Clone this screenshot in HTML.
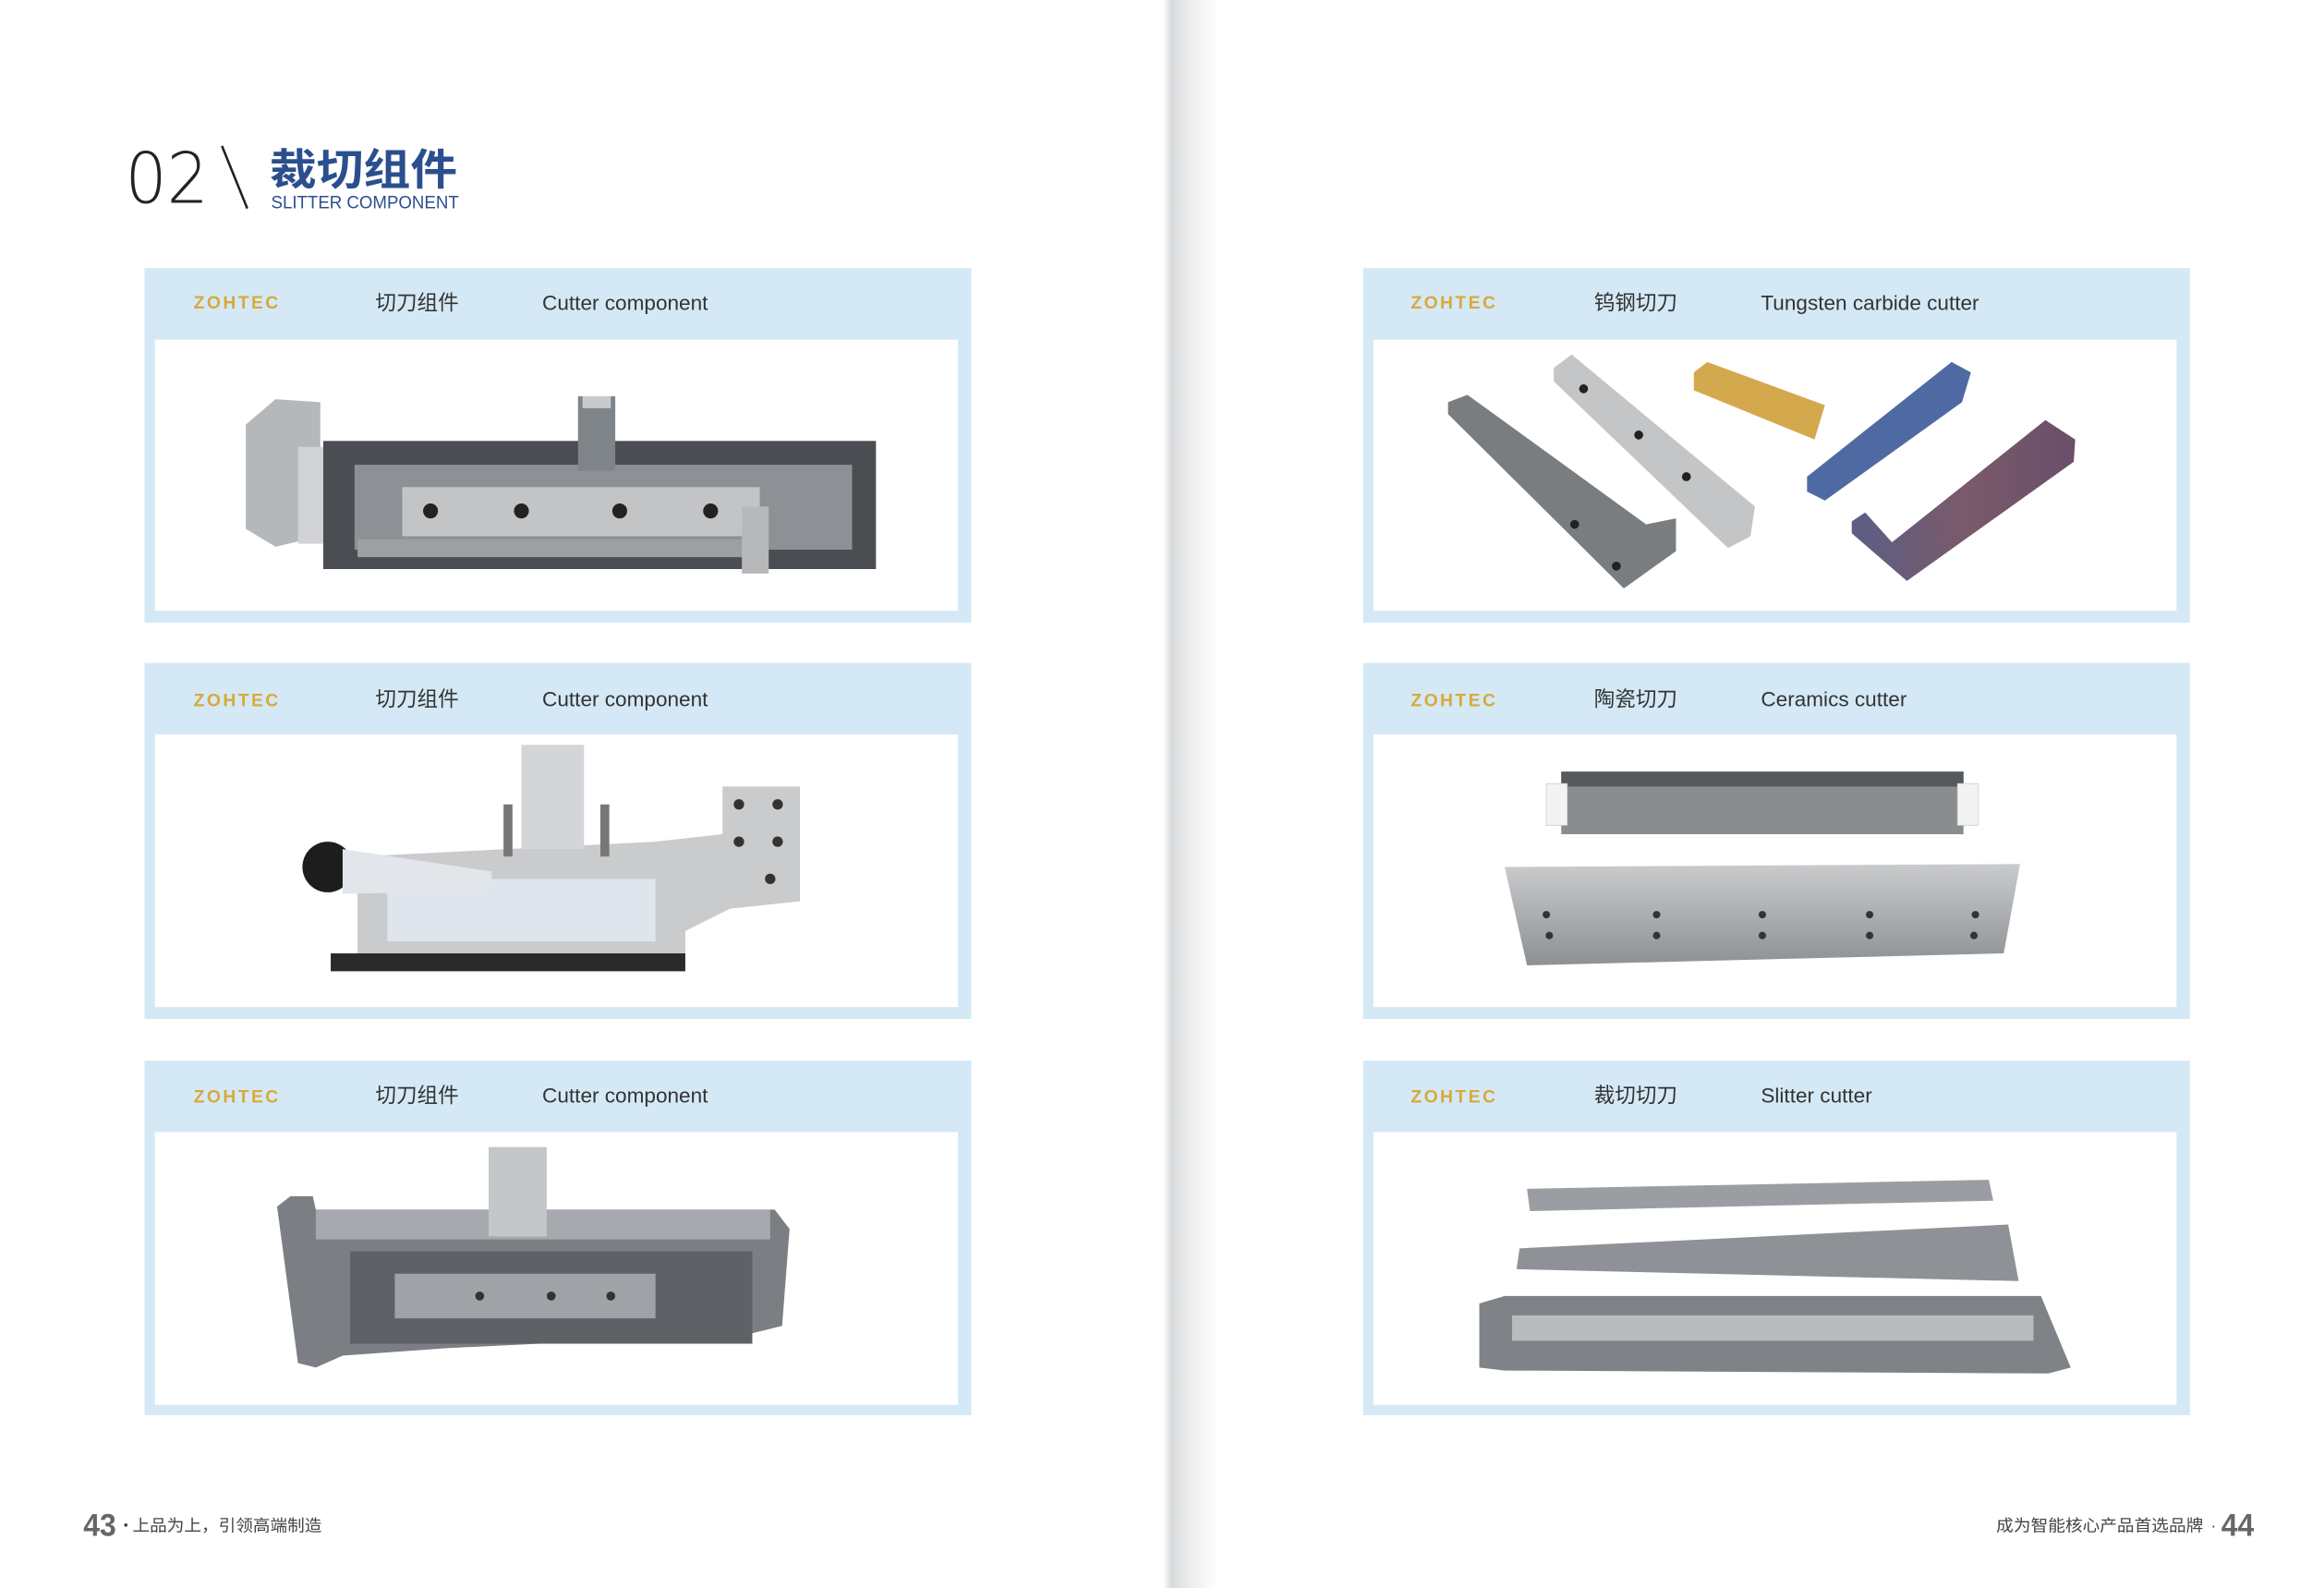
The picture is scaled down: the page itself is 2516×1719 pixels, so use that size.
<!DOCTYPE html>
<html><head><meta charset="utf-8"><style>
html,body{margin:0;padding:0;background:#fff;}
svg{display:block;}
text{font-family:"Liberation Sans","Noto Sans CJK SC",sans-serif;}
</style></head><body>
<svg width="2516" height="1719" viewBox="0 0 1560 1066" preserveAspectRatio="none" xmlns="http://www.w3.org/2000/svg">
<defs>
<linearGradient id="spine" x1="0" x2="1" y1="0" y2="0">
<stop offset="0" stop-color="#fdfdfd"/><stop offset="0.15" stop-color="#d9dadc"/><stop offset="0.5" stop-color="#eceded"/><stop offset="1" stop-color="#fefefe"/>
</linearGradient>
<linearGradient id="steel" x1="0" x2="0" y1="0" y2="1"><stop offset="0" stop-color="#c9cbcd"/><stop offset="1" stop-color="#8e9194"/></linearGradient>
<linearGradient id="purp" x1="0" x2="1"><stop offset="0" stop-color="#5a5f86"/><stop offset="0.5" stop-color="#7a5a6a"/><stop offset="1" stop-color="#6a4f6a"/></linearGradient>
</defs>
<rect width="1560" height="1066" fill="#fff"/>
<rect x="781" y="0" width="36" height="1066" fill="url(#spine)"/>

<!-- title -->
<text x="84" y="136" font-size="47" fill="#222" font-weight="300" style="font-family:'DejaVu Sans','Liberation Sans',sans-serif" textLength="56" lengthAdjust="spacingAndGlyphs">02</text>
<line x1="149" y1="98" x2="166" y2="140" stroke="#222" stroke-width="1.6"/>
<text x="181" y="124" font-size="29" font-weight="bold" fill="#2b4f8e" style="font-family:'Noto Sans CJK SC',sans-serif" textLength="126" lengthAdjust="spacingAndGlyphs">裁切组件</text>
<text x="182" y="140" font-size="12" fill="#2b4f8e" textLength="126" lengthAdjust="spacingAndGlyphs">SLITTER COMPONENT</text>

<!-- cards -->
<g id="cards">
<rect x="97" y="180" width="555" height="238" fill="#d4e9f5"/><rect x="104" y="228" width="539" height="182" fill="#fff"/>
<rect x="97" y="445" width="555" height="239" fill="#d4e9f5"/><rect x="104" y="493" width="539" height="183" fill="#fff"/>
<rect x="97" y="712" width="555" height="238" fill="#d4e9f5"/><rect x="104" y="760" width="539" height="183" fill="#fff"/>
<rect x="915" y="180" width="555" height="238" fill="#d4e9f5"/><rect x="922" y="228" width="539" height="182" fill="#fff"/>
<rect x="915" y="445" width="555" height="239" fill="#d4e9f5"/><rect x="922" y="493" width="539" height="183" fill="#fff"/>
<rect x="915" y="712" width="555" height="238" fill="#d4e9f5"/><rect x="922" y="760" width="539" height="183" fill="#fff"/>
</g>
<g font-size="14" fill="#333">
<text x="130" y="207" font-size="12" font-weight="bold" fill="#d9a93a" letter-spacing="1.5">ZOHTEC</text>
<text x="252" y="208" style="font-family:'Noto Sans CJK SC',sans-serif">切刀组件</text>
<text x="364" y="208">Cutter component</text>
<text x="130" y="474" font-size="12" font-weight="bold" fill="#d9a93a" letter-spacing="1.5">ZOHTEC</text>
<text x="252" y="474" style="font-family:'Noto Sans CJK SC',sans-serif">切刀组件</text>
<text x="364" y="474">Cutter component</text>
<text x="130" y="740" font-size="12" font-weight="bold" fill="#d9a93a" letter-spacing="1.5">ZOHTEC</text>
<text x="252" y="740" style="font-family:'Noto Sans CJK SC',sans-serif">切刀组件</text>
<text x="364" y="740">Cutter component</text>
<text x="947" y="207" font-size="12" font-weight="bold" fill="#d9a93a" letter-spacing="1.5">ZOHTEC</text>
<text x="1070" y="208" style="font-family:'Noto Sans CJK SC',sans-serif">钨钢切刀</text>
<text x="1182" y="208">Tungsten carbide cutter</text>
<text x="947" y="474" font-size="12" font-weight="bold" fill="#d9a93a" letter-spacing="1.5">ZOHTEC</text>
<text x="1070" y="474" style="font-family:'Noto Sans CJK SC',sans-serif">陶瓷切刀</text>
<text x="1182" y="474">Ceramics cutter</text>
<text x="947" y="740" font-size="12" font-weight="bold" fill="#d9a93a" letter-spacing="1.5">ZOHTEC</text>
<text x="1070" y="740" style="font-family:'Noto Sans CJK SC',sans-serif">裁切切刀</text>
<text x="1182" y="740">Slitter cutter</text>
</g>

<!-- product 1 -->
<polygon points="165,285 185,268 215,270 215,360 185,367 165,355" fill="#b5b8bb"/>
<rect x="200" y="300" width="20" height="65" fill="#d0d2d4"/>
<rect x="217" y="296" width="371" height="86" fill="#4a4d51"/>
<rect x="238" y="312" width="334" height="57" fill="#8d9094"/>
<rect x="270" y="327" width="240" height="33" fill="#c2c4c6"/>
<rect x="240" y="362" width="270" height="12" fill="#9da0a3"/>
<rect x="498" y="340" width="18" height="45" fill="#b6b8ba"/>
<rect x="388" y="266" width="25" height="50" fill="#7f8489"/>
<rect x="391" y="266" width="19" height="8" fill="#c8cacc"/>
<g fill="#222"><circle cx="289" cy="343" r="5"/><circle cx="350" cy="343" r="5"/><circle cx="416" cy="343" r="5"/><circle cx="477" cy="343" r="5"/></g>

<!-- product 2 -->
<polygon points="240,575 440,565 485,560 485,528 537,528 537,605 490,610 460,625 460,650 240,648" fill="#c9cbcd"/>
<rect x="260" y="590" width="180" height="42" fill="#dfe5ec"/>
<rect x="350" y="500" width="42" height="70" fill="#d3d5d8"/>
<rect x="338" y="540" width="6" height="35" fill="#777"/><rect x="403" y="540" width="6" height="35" fill="#777"/>
<circle cx="220" cy="582" r="17" fill="#1d1d1d"/>
<polygon points="230,570 330,585 330,598 230,600" fill="#e2e6ea"/>
<rect x="222" y="640" width="238" height="12" fill="#2a2a2a"/>
<g fill="#333"><circle cx="496" cy="540" r="3.5"/><circle cx="522" cy="540" r="3.5"/><circle cx="496" cy="565" r="3.5"/><circle cx="522" cy="565" r="3.5"/><circle cx="517" cy="590" r="3.5"/></g>

<!-- product 3 -->
<polygon points="186,810 195,803 210,803 212,812 520,812 530,825 525,890 505,895 300,905 230,910 212,918 200,915" fill="#7b7f84"/>
<rect x="212" y="812" width="305" height="20" fill="#a6a9ad"/>
<rect x="235" y="840" width="270" height="62" fill="#5e6267"/>
<rect x="265" y="855" width="175" height="30" fill="#9fa3a7"/>
<rect x="328" y="770" width="39" height="60" fill="#c4c7ca"/>
<g fill="#333"><circle cx="322" cy="870" r="3"/><circle cx="370" cy="870" r="3"/><circle cx="410" cy="870" r="3"/></g>

<!-- right 1 -->
<polygon points="972,270 985,265 1105,352 1125,348 1125,370 1090,395 972,278" fill="#7a7d80"/>
<polygon points="1043,247 1055,238 1178,340 1175,360 1160,368 1043,256" fill="#c3c5c7"/>
<polygon points="1137,250 1146,243 1225,272 1218,295 1137,262" fill="#d4a94d"/>
<polygon points="1213,320 1310,243 1323,250 1317,270 1225,336 1213,330" fill="#4f6aa3"/>
<polygon points="1243,350 1252,344 1270,364 1373,282 1393,295 1392,310 1280,390 1243,358" fill="url(#purp)"/>
<g fill="#222"><circle cx="1057" cy="352" r="3"/><circle cx="1085" cy="380" r="3"/><circle cx="1063" cy="261" r="3"/><circle cx="1100" cy="292" r="3"/><circle cx="1132" cy="320" r="3"/></g>

<!-- right 2 -->
<rect x="1048" y="518" width="270" height="42" fill="#8a8d90"/>
<rect x="1048" y="518" width="270" height="10" fill="#56595d"/>
<rect x="1038" y="526" width="14" height="28" fill="#f3f3f3" stroke="#ccc" stroke-width="0.5"/>
<rect x="1314" y="526" width="14" height="28" fill="#f3f3f3" stroke="#ccc" stroke-width="0.5"/>
<polygon points="1010,582 1356,580 1345,640 1025,648" fill="url(#steel)"/>
<g fill="#333"><circle cx="1038" cy="614" r="2.5"/><circle cx="1112" cy="614" r="2.5"/><circle cx="1183" cy="614" r="2.5"/><circle cx="1255" cy="614" r="2.5"/><circle cx="1326" cy="614" r="2.5"/>
<circle cx="1040" cy="628" r="2.5"/><circle cx="1112" cy="628" r="2.5"/><circle cx="1183" cy="628" r="2.5"/><circle cx="1255" cy="628" r="2.5"/><circle cx="1325" cy="628" r="2.5"/></g>

<!-- right 3 -->
<polygon points="1025,798 1335,792 1338,806 1027,813" fill="#9a9ea2"/>
<polygon points="1020,838 1348,822 1355,860 1018,852" fill="#8e9296"/>
<polygon points="993,875 1010,870 1370,870 1390,918 1375,922 1010,920 993,918" fill="#7f8387"/>
<rect x="1015" y="883" width="350" height="17" fill="#b9bcbf"/>

<!-- footer -->
<text x="56" y="1031" font-size="21" font-weight="bold" fill="#666" textLength="22" lengthAdjust="spacingAndGlyphs">43</text>
<text x="79" y="1028" font-size="11" fill="#444" style="font-family:'Noto Sans CJK SC',sans-serif">·</text>
<text x="89" y="1028" font-size="11" fill="#444" style="font-family:'Noto Sans CJK SC',sans-serif" textLength="127" lengthAdjust="spacingAndGlyphs">上品为上，引领高端制造</text>
<text x="1340" y="1028" font-size="11" fill="#444" style="font-family:'Noto Sans CJK SC',sans-serif" textLength="139" lengthAdjust="spacingAndGlyphs">成为智能核心产品首选品牌</text>
<text x="1484" y="1028" font-size="11" fill="#444">·</text>
<text x="1491" y="1031" font-size="21" font-weight="bold" fill="#666" textLength="22" lengthAdjust="spacingAndGlyphs">44</text>
</svg>
</body></html>
